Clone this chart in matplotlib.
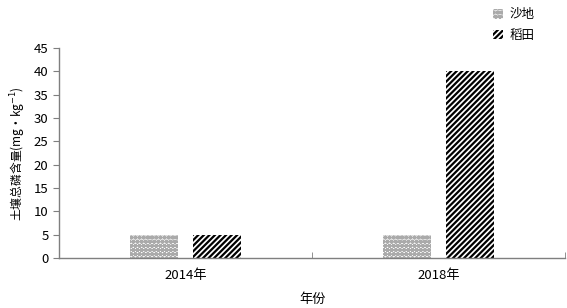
import numpy as np
import matplotlib.pyplot as plt
import matplotlib as mpl

plt.rcParams['font.family'] = ['Noto Sans CJK SC', 'DejaVu Sans']
mpl.rcParams['hatch.linewidth'] = 1.6

years = ['2014年', '2018年']
sandy = [5, 5]
paddy = [5, 40]

fig = plt.figure(figsize=(5.67, 3.08), dpi=100)
ax = fig.add_axes([0.104, 0.162, 0.893, 0.682])

x = np.arange(len(years))
w = 0.19
ax.bar(x - 0.124, sandy, w, color='white', edgecolor='#aaaaaa', hatch='oooo',
       linewidth=0, label='沙地')
ax.bar(x + 0.124, paddy, w, color='white', edgecolor='black', hatch='//////',
       linewidth=0, label='稻田')

ax.set_xlim(-0.5, 1.5)
ax.set_ylim(0, 45)
ax.set_yticks(range(0, 46, 5))
ax.set_xticks(x)
ax.set_xticklabels(years, fontsize=9.5)
ax.set_xticks([-0.5, 0.5, 1.5], minor=True)
ax.tick_params(axis='x', which='major', length=0, pad=8)
ax.tick_params(axis='x', which='minor', direction='in', length=4, color='#7f7f7f')
ax.tick_params(axis='y', direction='out', length=4, color='#7f7f7f', labelsize=9.5)

for s in ['top', 'right']:
    ax.spines[s].set_visible(False)
for s in ['left', 'bottom']:
    ax.spines[s].set_color('#7f7f7f')
    ax.spines[s].set_linewidth(1)

ax.set_xlabel('年份', fontsize=9.5, labelpad=8)
ax.set_ylabel('土壤总磷含量(mg·kg$^{-1}$)', fontsize=8.5, labelpad=4)

fig.legend(loc='upper left', bbox_to_anchor=(0.85, 1.01), frameon=False,
           fontsize=9, handlelength=0.8, handleheight=0.8, handletextpad=0.5,
           labelspacing=0.6)

fig.savefig('out.png', dpi=100)
